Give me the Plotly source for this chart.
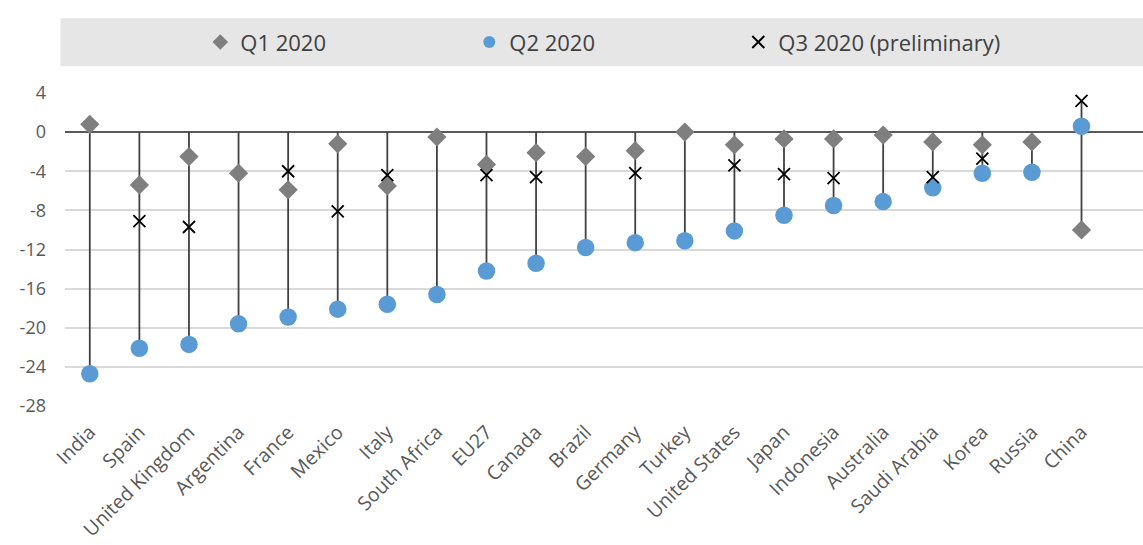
import plotly.graph_objects as go

# GDP growth, quarter on quarter (%), G20 economies
countries = ["India", "Spain", "United Kingdom", "Argentina", "France", "Mexico", "Italy",
             "South Africa", "EU27", "Canada", "Brazil", "Germany", "Turkey", "United States",
             "Japan", "Indonesia", "Australia", "Saudi Arabia", "Korea", "Russia", "China"]

q1_2020 = [0.8, -5.4, -2.5, -4.2, -5.9, -1.2, -5.5,
           -0.5, -3.3, -2.1, -2.5, -1.9, 0.0, -1.3,
           -0.7, -0.7, -0.3, -1.0, -1.3, -1.0, -10.0]

q2_2020 = [-24.7, -22.1, -21.7, -19.6, -18.9, -18.1, -17.6,
           -16.6, -14.2, -13.4, -11.8, -11.3, -11.1, -10.1,
           -8.5, -7.5, -7.1, -5.7, -4.2, -4.1, 0.6]

q3_2020 = [None, -9.1, -9.7, None, -4.0, -8.1, -4.4,
           None, -4.4, -4.6, None, -4.2, None, -3.4,
           -4.3, -4.7, None, -4.6, -2.7, None, 3.2]

ytick_values = [4, 0, -4, -8, -12, -16, -20, -24, -28]

# Vertical high-low stems spanning zero and every quarter's value
stem_x, stem_y = [], []
for i, name in enumerate(countries):
    vals = [0.0] + [v for v in (q1_2020[i], q2_2020[i], q3_2020[i]) if v is not None]
    stem_x += [name, name, None]
    stem_y += [max(vals), min(vals), None]

fig = go.Figure()
fig.add_trace(go.Scatter(x=stem_x, y=stem_y, mode="lines", showlegend=False,
                         line=dict(color="#404040", width=1.8), hoverinfo="skip"))
fig.add_trace(go.Scatter(x=countries, y=q1_2020, mode="markers", name="Q1 2020",
                         marker=dict(symbol="diamond", size=14.8, color="#7f7f7f")))
fig.add_trace(go.Scatter(x=countries, y=q2_2020, mode="markers", name="Q2 2020",
                         marker=dict(symbol="circle", size=17.5, color="#5b9bd5")))
fig.add_trace(go.Scatter(x=countries, y=q3_2020, mode="markers", name="Q3 2020 (preliminary)",
                         marker=dict(symbol="x-thin-open", size=12, color="#000000",
                                     line=dict(color="#000000", width=1.8))))

fig.update_layout(
    width=1143, height=545,
    margin=dict(l=64.5, r=0, t=91.7, b=138.3),
    paper_bgcolor="white", plot_bgcolor="white",
    font=dict(family="Open Sans", color="#595959"),
    showlegend=True,
    legend=dict(orientation="h", x=0.1255, xanchor="left", y=1.158, yanchor="middle",
                bgcolor="rgba(0,0,0,0)", entrywidth=224, itemsizing="constant",
                font=dict(size=22, color="#404040", family="Open Sans"),
                traceorder="normal"),
    shapes=[dict(type="rect", xref="paper", yref="paper", x0=-0.0042, x1=1.0,
                 y0=1.0816, y1=1.234, fillcolor="#e6e6e6", line=dict(width=0),
                 layer="below")],
)

fig.update_xaxes(type="category", categoryorder="array", categoryarray=countries,
                 range=[-0.5, 21.24], showgrid=False, showline=False, zeroline=False,
                 tickangle=-45, tickfont=dict(size=19.5, color="#595959"),
                 ticklabelstandoff=9, automargin=False)
fig.update_yaxes(range=[-28.1, 4.1], tickvals=ytick_values,
                 ticktext=[str(v) for v in ytick_values],
                 showgrid=True, gridcolor="#d9d9d9", gridwidth=1.5,
                 zeroline=True, zerolinecolor="#595959", zerolinewidth=2,
                 showline=False, tickfont=dict(size=18, color="#595959"),
                 ticklabelstandoff=18, automargin=False)

fig.write_html("out.html")
